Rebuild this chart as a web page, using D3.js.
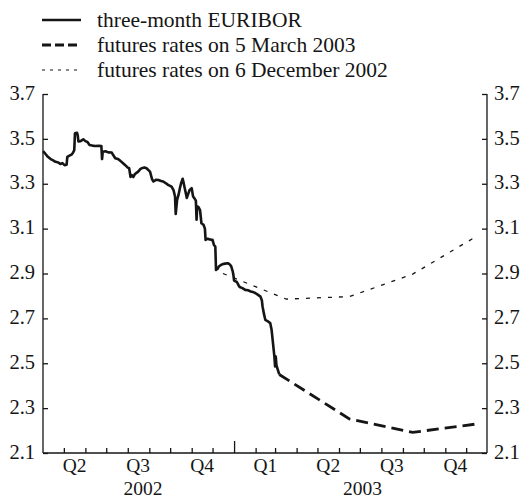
<!DOCTYPE html>
<html><head><meta charset="utf-8">
<script src="https://cdn.jsdelivr.net/npm/d3@7"></script>
<style>body{margin:0;background:#fff}svg{display:block}</style>
</head><body><svg id="c" width="523" height="499"></svg>
<script>
// ---- data ----
const euribor = [
["2002-04-01",3.445],["2002-04-04",3.435],["2002-04-08",3.42],["2002-04-12",3.41],["2002-04-15",3.405],
["2002-04-19",3.398],["2002-04-23",3.395],["2002-04-26",3.388],["2002-04-29",3.392],["2002-05-02",3.383],
["2002-05-05",3.385],["2002-05-06",3.42],["2002-05-09",3.425],["2002-05-12",3.43],["2002-05-14",3.437],
["2002-05-16",3.45],["2002-05-17",3.525],["2002-05-20",3.527],["2002-05-21",3.515],["2002-05-22",3.488],
["2002-05-25",3.49],["2002-05-29",3.498],["2002-06-01",3.49],["2002-06-04",3.486],["2002-06-07",3.473],
["2002-06-11",3.47],["2002-06-15",3.468],["2002-06-20",3.469],["2002-06-24",3.468],["2002-06-25",3.41],
["2002-06-26",3.443],["2002-06-30",3.445],["2002-07-04",3.44],["2002-07-09",3.439],["2002-07-11",3.428],
["2002-07-14",3.414],["2002-07-18",3.41],["2002-07-21",3.403],["2002-07-24",3.395],["2002-07-28",3.384],
["2002-08-01",3.372],["2002-08-03",3.369],["2002-08-05",3.33],["2002-08-07",3.338],["2002-08-09",3.33],
["2002-08-11",3.342],["2002-08-16",3.354],["2002-08-19",3.365],["2002-08-21",3.369],["2002-08-25",3.372],
["2002-08-28",3.369],["2002-09-02",3.354],["2002-09-05",3.32],["2002-09-07",3.31],["2002-09-11",3.318],
["2002-09-14",3.317],["2002-09-18",3.312],["2002-09-21",3.31],["2002-09-25",3.302],["2002-09-28",3.295],
["2002-10-03",3.287],["2002-10-06",3.27],["2002-10-08",3.243],["2002-10-09",3.165],["2002-10-11",3.228],
["2002-10-13",3.25],["2002-10-15",3.28],["2002-10-17",3.305],["2002-10-19",3.322],["2002-10-20",3.31],
["2002-10-22",3.28],["2002-10-25",3.237],["2002-10-27",3.255],["2002-10-29",3.272],["2002-11-01",3.28],
["2002-11-03",3.243],["2002-11-05",3.235],["2002-11-07",3.225],["2002-11-08",3.14],["2002-11-09",3.2],
["2002-11-11",3.195],["2002-11-13",3.183],["2002-11-15",3.124],["2002-11-18",3.117],["2002-11-20",3.1],
["2002-11-21",3.05],["2002-11-24",3.055],["2002-11-26",3.053],["2002-11-29",3.05],["2002-12-01",3.05],
["2002-12-03",3.027],["2002-12-05",3.02],["2002-12-06",2.916],["2002-12-08",2.92],["2002-12-10",2.931],
["2002-12-13",2.938],["2002-12-15",2.941],["2002-12-19",2.944],["2002-12-23",2.946],["2002-12-26",2.94],
["2002-12-28",2.931],["2002-12-30",2.91],["2002-12-31",2.894],["2003-01-01",2.868],["2003-01-05",2.862],
["2003-01-07",2.85],["2003-01-09",2.84],["2003-01-13",2.835],["2003-01-17",2.827],["2003-01-21",2.825],
["2003-01-25",2.82],["2003-01-28",2.818],["2003-02-01",2.812],["2003-02-04",2.806],["2003-02-08",2.797],
["2003-02-10",2.78],["2003-02-11",2.753],["2003-02-13",2.72],["2003-02-15",2.693],["2003-02-18",2.688],
["2003-02-22",2.679],["2003-02-24",2.649],["2003-02-26",2.59],["2003-02-28",2.53],["2003-03-01",2.486],
["2003-03-02",2.53],["2003-03-03",2.49],["2003-03-05",2.47],["2003-03-07",2.45]
];
const futuresMarch2003 = [["2003-03-07",2.45],["2003-06-16",2.252],["2003-09-15",2.192],["2003-12-15",2.229]];
const futuresDec2002 = [["2002-12-16",2.90],["2003-03-17",2.786],["2003-06-16",2.797],["2003-09-15",2.897],["2003-12-15",3.064]];
const yTicks = [2.1,2.3,2.5,2.7,2.9,3.1,3.3,3.5,3.7];
const quarterStarts = ["2002-04-01","2002-07-01","2002-10-01","2003-01-01","2003-04-01","2003-07-01","2003-10-01","2003-12-31"];
const quarterNames = ["Q2","Q3","Q4","Q1","Q2","Q3","Q4"];
const yearLabels = [["2002-08-23","2002"],["2003-07-05","2003"]];
const legendLabels = ["three-month EURIBOR","futures rates on 5 March 2003","futures rates on 6 December 2002"];

// ---- setup ----
const parse = d3.utcParse("%Y-%m-%d");
const svg = d3.select("#c");
const L = 43, R = 487, T = 94, B = 453;
const x = d3.scaleUtc().domain([parse("2002-04-01"), parse("2003-12-31")]).range([L, R]);
const y = d3.scaleLinear().domain([2.1, 3.7]).range([B, T]);
const font = "Liberation Serif, Times New Roman, serif";
const ink = "#151515";

// axes
const axisG = svg.append("g").attr("stroke", ink).attr("stroke-width", 1.3).attr("fill", "none");
axisG.append("line").attr("x1", L).attr("x2", L).attr("y1", T).attr("y2", B);
axisG.append("line").attr("x1", R).attr("x2", R).attr("y1", T).attr("y2", B);
axisG.append("line").attr("x1", L).attr("x2", R).attr("y1", B).attr("y2", B);

const leftAxis = d3.axisRight(y).tickValues(yTicks).tickSize(5).tickFormat(d3.format(".1f"));
const rightAxis = d3.axisLeft(y).tickValues(yTicks).tickSize(5).tickFormat(d3.format(".1f"));
function styleY(g, anchor, dx) {
  g.select(".domain").remove();
  g.selectAll(".tick line").attr("stroke", ink).attr("stroke-width", 1.3);
  g.selectAll(".tick text").attr("font-family", font).attr("font-size", 20.5).attr("fill", ink)
    .attr("text-anchor", anchor).attr("x", dx).attr("dy", "0.25em");
}
svg.append("g").attr("transform", `translate(${L},0)`).call(leftAxis).call(g => styleY(g, "end", -8));
svg.append("g").attr("transform", `translate(${R},0)`).call(rightAxis).call(g => styleY(g, "start", 7));

// monthly ticks
const months = d3.utcMonth.range(parse("2002-05-01"), parse("2003-12-31"));
const bottomAxis = d3.axisTop(x).tickValues(months).tickSize(5).tickFormat("");
svg.append("g").attr("transform", `translate(0,${B})`).call(bottomAxis).call(g => {
  g.select(".domain").remove();
  g.selectAll(".tick line").attr("stroke", ink).attr("stroke-width", 1.3)
    .attr("y2", d => d.getUTCMonth() === 0 ? -12 : -5);
});

// quarter labels
const qMid = quarterNames.map((q, i) => [new Date((parse(quarterStarts[i]).getTime() + parse(quarterStarts[i + 1]).getTime()) / 2), q]);
svg.append("g").selectAll("text").data(qMid).join("text")
  .attr("x", d => x(d[0])).attr("y", 472).attr("text-anchor", "middle")
  .attr("font-family", font).attr("font-size", 19.5).attr("fill", ink).text(d => d[1]);
svg.append("g").selectAll("text").data(yearLabels).join("text")
  .attr("x", d => x(parse(d[0]))).attr("y", 494.5).attr("text-anchor", "middle")
  .attr("font-family", font).attr("font-size", 19.5).attr("fill", ink).text(d => d[1]);

// lines
const line = d3.line().x(d => x(parse(d[0]))).y(d => y(d[1]));
svg.append("path").datum(futuresDec2002).attr("d", line).attr("fill", "none")
  .attr("stroke", ink).attr("stroke-width", 1.3).attr("stroke-dasharray", "4,7");
svg.append("path").datum(futuresMarch2003).attr("d", line).attr("fill", "none")
  .attr("stroke", ink).attr("stroke-width", 2.8).attr("stroke-dasharray", "12,6");
svg.append("path").datum(euribor).attr("d", line).attr("fill", "none")
  .attr("stroke", ink).attr("stroke-width", 2.6).attr("stroke-linejoin", "round");

// legend
const legStyles = [
  {w: 2.6, dash: null},
  {w: 2.8, dash: "9,4"},
  {w: 1.1, dash: "3,5"}
];
const leg = svg.append("g");
legendLabels.forEach((t, i) => {
  const by = 26.5 + i * 25;
  leg.append("line").attr("x1", 42).attr("x2", 81).attr("y1", by - 6.5).attr("y2", by - 6.5)
    .attr("stroke", ink).attr("stroke-width", legStyles[i].w)
    .attr("stroke-dasharray", legStyles[i].dash);
  leg.append("text").attr("x", 97).attr("y", by).attr("font-family", font).attr("font-size", 21.5)
    .attr("fill", ink).text(t);
});
</script>
</body></html>
